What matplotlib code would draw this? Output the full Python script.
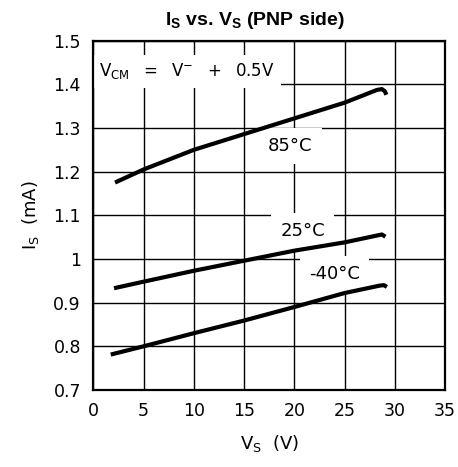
import matplotlib.pyplot as plt

plt.rcParams['font.family'] = 'DejaVu Sans'

# supply voltage (V) and supply current (mA) for each temperature
v_85 = [2.15, 5, 10, 15, 20, 25, 28.2, 28.7, 29.0, 29.15]
i_85 = [1.175, 1.205, 1.25, 1.286, 1.322, 1.358, 1.387, 1.389, 1.384, 1.376]

v_25 = [2.05, 5, 10, 15, 20, 25, 28.7, 29.05]
i_25 = [0.933, 0.948, 0.973, 0.996, 1.019, 1.038, 1.056, 1.051]

v_m40 = [1.72, 5, 10, 15, 20, 25, 28.5, 28.9, 29.2]
i_m40 = [0.781, 0.80, 0.830, 0.859, 0.890, 0.922, 0.939, 0.940, 0.936]

x_ticks = [0, 5, 10, 15, 20, 25, 30, 35]
y_ticks = [0.7, 0.8, 0.9, 1.0, 1.1, 1.2, 1.3, 1.4, 1.5]
y_labels = ['0.7', '0.8', '0.9', '1', '1.1', '1.2', '1.3', '1.4', '1.5']

fig = plt.figure(figsize=(4.58, 4.67), dpi=100)
ax = fig.add_axes([0.204, 0.165, 0.768, 0.748])

for v, i in [(v_85, i_85), (v_25, i_25), (v_m40, i_m40)]:
    ax.plot(v, i, color='black', lw=3.0, solid_capstyle='butt', zorder=3)

ax.set_xlim(0, 35)
ax.set_ylim(0.7, 1.5)
ax.set_xticks(x_ticks)
ax.set_yticks(y_ticks)
ax.set_yticklabels(y_labels)
ax.grid(True, color='black', lw=1.0)
ax.set_axisbelow(True)
ax.tick_params(length=0, labelsize=12.5, pad=9)
for s in ax.spines.values():
    s.set_linewidth(1.6)
    s.set_zorder(5)

box = dict(facecolor='white', edgecolor='none', boxstyle='square,pad=0.5')
ax.text(9.3, 1.43, r'$\mathregular{V_{CM}\ \ =\ \ V^{-}\ \ +\ \ 0.5V}$', fontsize=12,
        ha='center', va='center', zorder=2,
        bbox=dict(facecolor='white', edgecolor='none', boxstyle='square,pad=0.4'))
ax.text(19.6, 1.259, '85°C', fontsize=13, ha='center', va='center', zorder=2, bbox=box)
ax.text(20.8, 1.063, '25°C', fontsize=13, ha='center', va='center', zorder=2, bbox=box)
ax.text(24.0, 0.965, '-40°C', fontsize=13, ha='center', va='center', zorder=2, bbox=box)

ax.set_xlabel(r'$\mathregular{V_S}$  (V)', fontsize=13, labelpad=9)
ax.set_ylabel(r'$\mathregular{I_S}$  (mA)', fontsize=13, labelpad=9)
ax.set_title(r'$\mathregular{I_S}$ vs. $\mathregular{V_S}$ (PNP side)', fontsize=14,
             fontweight='bold', family='Liberation Sans', x=0.46, pad=11)

fig.savefig('out.png', dpi=100)
